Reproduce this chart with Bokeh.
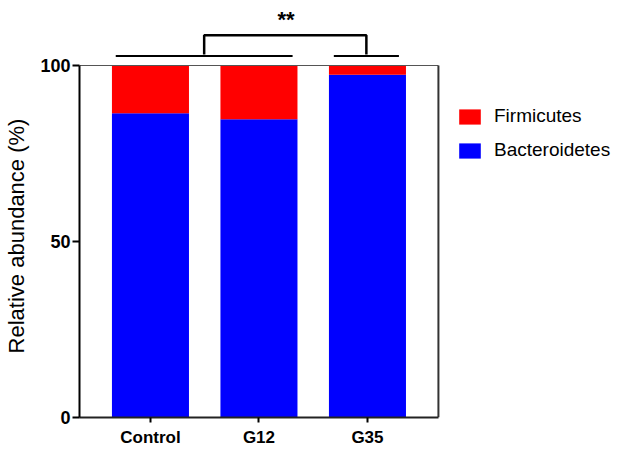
from bokeh.plotting import figure
from bokeh.layouts import column
from bokeh.models import Range1d, FixedTicker, Legend, LegendItem, ColumnDataSource
from bokeh.embed import file_html
from bokeh.resources import INLINE
from bokeh.core.properties import value

categories = ["Control", "G12", "G35"]
bacteroidetes = [86.4, 84.7, 97.4]
firmicutes = [13.6, 15.3, 2.6]
y_ticks = [0, 50, 100]
series_names = ["Firmicutes", "Bacteroidetes"]
series_colors = ["#FF0000", "#0000FF"]

FONT = "Liberation Sans"
PX_PER_UNIT = 3.52      # vertical pixels per percent
X0, X1 = -0.654, 2.654  # visible plot box in x
X_END = X0 + 538 / 108.5

xs = list(range(len(categories)))
top_f = [b + f for b, f in zip(bacteroidetes, firmicutes)]
src = ColumnDataSource(dict(x=xs, b0=[0] * len(xs), b1=bacteroidetes, f0=bacteroidetes, f1=top_f))

TOP_H = 54
MAIN_H = 449 - TOP_H
MAIN_BOTTOM = 32
Y_SPLIT = (MAIN_H - MAIN_BOTTOM) / PX_PER_UNIT


def draw_bracket(fig):
    fig.segment(x0=[-0.32, 1.69], y0=[102.7, 102.7], x1=[1.31, 2.29], y1=[102.7, 102.7],
                line_color="black", line_width=2)
    fig.line(x=[0.495, 0.495, 1.99, 1.99], y=[102.7, 108.6, 108.6, 102.7],
             line_color="black", line_width=2.5)


# ---- top strip with significance bracket ----
top = figure(width=617, height=TOP_H, output_backend="svg", toolbar_location=None,
             x_range=Range1d(X0, X_END), y_range=Range1d(Y_SPLIT, Y_SPLIT + TOP_H / PX_PER_UNIT),
             x_axis_location=None, y_axis_location=None,
             min_border_left=79, min_border_right=0, min_border_top=0, min_border_bottom=0)
top.outline_line_color = None
top.grid.visible = False
draw_bracket(top)
top.text(x=[1.25], y=[113.0], text=["**"], text_font=value(FONT), text_font_size="22px",
         text_font_style="bold", text_align="center", text_baseline="middle", text_color="black")

# ---- main chart ----
p = figure(width=617, height=MAIN_H, output_backend="svg", toolbar_location=None,
           x_range=top.x_range, y_range=Range1d(0, Y_SPLIT),
           min_border_left=79, min_border_right=0, min_border_top=0, min_border_bottom=MAIN_BOTTOM)
p.outline_line_color = None
p.grid.visible = False

r_b = p.vbar(x="x", width=0.71, bottom="b0", top="b1", source=src,
             fill_color=series_colors[1], line_color=None)
r_f = p.vbar(x="x", width=0.71, bottom="f0", top="f1", source=src,
             fill_color=series_colors[0], line_color=None)

# plot box borders (top thin, right)
p.segment(x0=[X0], y0=[100], x1=[X1], y1=[100], line_color="#555555", line_width=1)
p.segment(x0=[X1], y0=[0], x1=[X1], y1=[100], line_color="#333333", line_width=2)
draw_bracket(p)

yax = p.yaxis[0]
yax.ticker = FixedTicker(ticks=y_ticks)
yax.bounds = (0, 100)
yax.axis_line_width = 2
yax.major_tick_line_width = 2
yax.major_tick_out = 7
yax.major_tick_in = 0
yax.minor_tick_line_color = None
yax.major_label_text_font = FONT
yax.major_label_text_font_style = "bold"
yax.major_label_text_font_size = "18px"
yax.major_label_text_color = "black"
yax.major_label_standoff = 2
yax.axis_label = "Relative abundance (%)"
yax.axis_label_text_font = FONT
yax.axis_label_text_font_style = "normal"
yax.axis_label_text_font_size = "22px"
yax.axis_label_text_color = "black"
yax.axis_label_standoff = 8

xax = p.xaxis[0]
xax.ticker = FixedTicker(ticks=xs)
xax.major_label_overrides = {i: c for i, c in zip(xs, categories)}
xax.bounds = (X0, X1)
xax.axis_line_width = 2
xax.axis_line_color = "#222222"
xax.major_tick_line_width = 2
xax.major_tick_out = 5
xax.major_tick_in = 0
xax.minor_tick_line_color = None
xax.major_label_text_font = FONT
xax.major_label_text_font_style = "bold"
xax.major_label_text_font_size = "17px"
xax.major_label_text_color = "black"
xax.major_label_standoff = 5

legend = Legend(items=[LegendItem(label=series_names[0], renderers=[r_f]),
                       LegendItem(label=series_names[1], renderers=[r_b])],
                location=(377, 256))
legend.glyph_width = 27
legend.glyph_height = 19
legend.label_height = 19
legend.spacing = 12
legend.label_standoff = 11
legend.padding = 0
legend.margin = 0
legend.border_line_color = None
legend.background_fill_alpha = 0
legend.label_text_font = FONT
legend.label_text_font_size = "19px"
legend.label_text_color = "black"
legend.label_text_baseline = "middle"
p.add_layout(legend, "center")

layout = column(top, p, spacing=0)
open("out.html", "w").write(file_html(layout, INLINE))
